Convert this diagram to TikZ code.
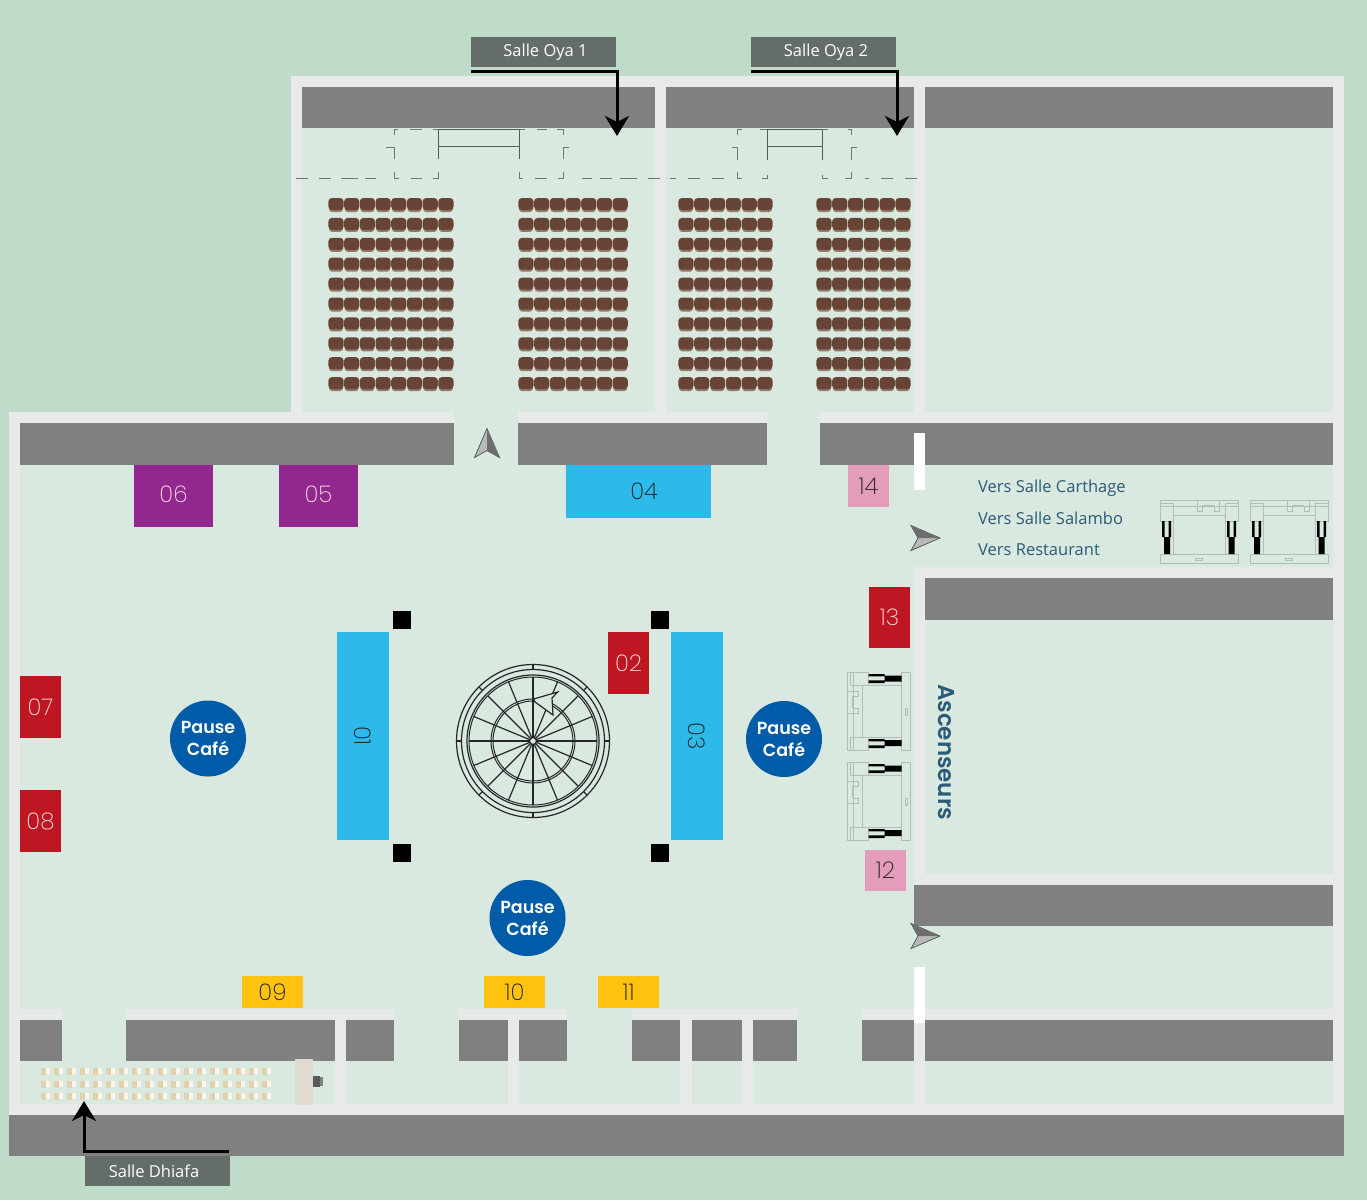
\documentclass[tikz,border=0pt]{standalone}
\usepackage{fontspec}
\setmainfont{Open Sans}
\newfontfamily\numfont{Poppins ExtraLight}
\newfontfamily\cafefont{Poppins SemiBold}
\usetikzlibrary{arrows.meta}
\definecolor{bgc}{HTML}{BFDBCA}
\definecolor{floorc}{HTML}{D9E9E0}
\definecolor{wallc}{HTML}{E8EAE9}
\definecolor{bandc}{HTML}{808080}
\definecolor{tagc}{HTML}{646D68}
\definecolor{purplec}{HTML}{92278F}
\definecolor{cyanc}{HTML}{2DB9E9}
\definecolor{pinkc}{HTML}{E39CB9}
\definecolor{redc}{HTML}{BE1622}
\definecolor{yellowc}{HTML}{FFC20E}
\definecolor{cafec}{HTML}{005CA9}
\definecolor{inkc}{HTML}{2B5B78}
\definecolor{seatc}{HTML}{684436}
\definecolor{seatd}{HTML}{8F7A69}
\definecolor{liftc}{HTML}{AEBFB6}
\definecolor{planc}{HTML}{4A5F58}
\definecolor{stonec}{HTML}{E0DBD2}
\tikzset{
  x=1pt,y=-1pt,
  tag/.style={fill=tagc,text=white,minimum width=145pt,minimum height=30pt,inner sep=0pt,font=\fontsize{16.5}{18}\selectfont},
  standbox/.style={text=white!88!red,inner sep=0pt,font=\numfont\fontsize{23}{26}\selectfont},
  darkbox/.style={text=black!88,inner sep=0pt,font=\numfont\fontsize{23}{26}\selectfont},
  cafe/.style={circle,fill=cafec,text=white,minimum size=76pt,inner sep=0pt,align=center,font=\cafefont\fontsize{17.5}{22}\selectfont},
  pointer/.style={line width=3pt,-{Stealth[length=20pt,width=24pt,inset=6pt]}},
  plan/.style={draw=planc,line width=0.9pt},
  plandash/.style={plan,draw=planc!80!floorc},
  legend/.style={text=inkc,anchor=west,inner sep=0pt,font=\fontsize{16.5}{18}\selectfont},
  lift/.style={draw=liftc,line width=0.9pt},
  compass/.style={draw=planc,line width=0.8pt,fill=bandc!55!white},
  rot/.style={draw=black!85,line width=1.2pt},
}
\newcommand{\Rct}[5]{\fill[#1] (#2,#3) rectangle (#4,#5);}
\newcommand{\Compass}[2]{%
\begin{scope}[shift={(#1,#2)}]
  \draw[compass] (15,0) -- (-14,-12.5) -- (-7,0) -- (-14,12.5) -- cycle;
  \fill[bandc!85!black] (14,0) -- (-13,-11.5) -- (-7,0) -- cycle;
\end{scope}}
\newcommand{\liftunit}[3]{%
\begin{scope}[shift={(#1,#2)},rotate=#3,shift={(-39,-31.5)}]
  \draw[lift] (0,0) rectangle (78,6);
  \draw[lift] (0,3) rectangle (13,21);
  \draw[lift] (65,3) rectangle (78,21);
  \draw[lift] (13,15) -- (65,15);
  \draw[lift] (37,0) -- (37,11) -- (42,11) -- (42,6) -- (54,6) -- (54,11) -- (59,11) -- (59,0);
  \draw[lift] (42,5) -- (54,5);
  \draw[lift] (0,54) rectangle (78,63);
  \draw[lift] (35,58) rectangle (42,60);
  \draw[lift] (13,21) -- (13,54);
  \draw[lift] (65,21) -- (65,54);
  \fill[black] (2,21) rectangle (4.6,37) (8.6,21) rectangle (11,37) (4,37) rectangle (10,54);
  \fill[black] (67,21) rectangle (69.6,37) (73.6,21) rectangle (76,37) (68.5,37) rectangle (74.5,54);
\end{scope}}
\newcommand{\seatblock}[3]{%
\foreach \r in {0,...,9}{%
  \foreach \c in {1,...,#2}{%
    \pgfmathsetmacro{\sx}{#1+(\c-1)*#3}
    \pgfmathsetmacro{\sy}{204.5+\r*19.9}
    \fill[seatd,rounded corners=3pt] (\sx-7,\sy+1) rectangle (\sx+7,\sy+7.5);
    \fill[seatc,rounded corners=3.5pt] (\sx-7.6,\sy-6.5) rectangle (\sx+7.6,\sy+5.5);
  }}}
\begin{document}
\begin{tikzpicture}
\useasboundingbox (0,0) rectangle (1367,1200);
\Rct{bgc}{0}{0}{1367}{1200}
% floors
\Rct{floorc}{291}{76}{1344}{423}
\Rct{floorc}{9}{412}{1344}{1115}
% walls
\Rct{wallc}{291}{76}{1344}{87}
\Rct{wallc}{291}{76}{302}{423}
\Rct{wallc}{655}{76}{666}{412}
\Rct{wallc}{914}{76}{925}{433}
\Rct{wallc}{1333}{76}{1344}{1115}
\Rct{wallc}{9}{412}{454}{423}
\Rct{wallc}{518}{412}{767}{423}
\Rct{wallc}{820}{412}{1344}{423}
\Rct{wallc}{9}{412}{20}{1115}
\Rct{wallc}{9}{1104}{1344}{1115}
\Rct{wallc}{914}{567}{1344}{578}
\Rct{wallc}{914}{567}{925}{885}
\Rct{wallc}{914}{874}{1344}{885}
\Rct{wallc}{20}{1009}{62}{1020}
\Rct{wallc}{126}{1009}{394}{1020}
\Rct{wallc}{459}{1009}{567}{1020}
\Rct{wallc}{632}{1009}{797}{1020}
\Rct{wallc}{862}{1009}{1344}{1020}
\Rct{wallc}{914}{1020}{925}{1104}
\Rct{wallc}{335}{1020}{346}{1104}
\Rct{wallc}{508}{1020}{519}{1104}
\Rct{wallc}{680}{1020}{692}{1104}
\Rct{wallc}{742}{1020}{753}{1104}
% dark bands
\Rct{bandc}{302}{87}{655}{128}
\Rct{bandc}{666}{87}{914}{128}
\Rct{bandc}{925}{87}{1333}{128}
\Rct{bandc}{20}{423}{454}{465}
\Rct{bandc}{518}{423}{767}{465}
\Rct{bandc}{820}{423}{1333}{465}
\Rct{bandc}{925}{578}{1333}{620}
\Rct{bandc}{914}{885}{1333}{926}
\Rct{bandc}{20}{1020}{62}{1061}
\Rct{bandc}{126}{1020}{335}{1061}
\Rct{bandc}{346}{1020}{394}{1061}
\Rct{bandc}{459}{1020}{508}{1061}
\Rct{bandc}{519}{1020}{567}{1061}
\Rct{bandc}{632}{1020}{680}{1061}
\Rct{bandc}{692}{1020}{742}{1061}
\Rct{bandc}{753}{1020}{797}{1061}
\Rct{bandc}{862}{1020}{914}{1061}
\Rct{bandc}{925}{1020}{1333}{1061}
\Rct{bandc}{9}{1115}{1344}{1156}
% white door strips
\Rct{white}{914}{433}{925}{490}
\Rct{white}{914}{967}{925}{1023}
% stage plans, Oya 1
\draw[plan] (438,129) -- (519,129) (438,146) -- (519,146) (438,129) -- (438,159) (519,129) -- (519,159);
\draw[plandash] (386,147) -- (394,147) -- (394,159) (569,147) -- (563,147) -- (563,159);
\draw[plandash] (398,129) -- (394,129) -- (394,135) (410,129) -- (422,129) (433,129) -- (438,129);
\draw[plandash] (394,172) -- (394,178) -- (399,178) (411,178) -- (422,178) (433,178) -- (438,178) -- (438,172);
\draw[plandash] (519,129) -- (525,129) (537,129) -- (547,129) (557,129) -- (563,129) -- (563,135);
\draw[plandash] (519,172) -- (519,178) -- (523,178) (535,178) -- (547,178) (558,178) -- (563,178) -- (563,172);
% stage plans, Oya 2
\draw[plan] (767,129) -- (822,129) (767,146) -- (822,146) (767,129) -- (767,160) (822,129) -- (822,160);
\draw[plandash] (732,147) -- (737,147) -- (737,160) (857,147) -- (851,147) -- (851,160);
\draw[plandash] (742,129) -- (737,129) -- (737,135) (760,129) -- (767,129);
\draw[plandash] (737,172) -- (737,178) -- (742,178) (762,178) -- (767,178) -- (767,175);
\draw[plandash] (822,175) -- (822,178) -- (828,178) (845,178) -- (851,178) -- (851,172);
\draw[plandash] (822,129) -- (828,129) (848,129) -- (851,129) -- (851,135);
% long dashed line
\foreach \a/\b in {296/308,319/331,341/358,365/376,582/592,600/612,620/637,648/660,670/676,688/700,712/724,865/869,881/893,905/917}{
  \draw[plandash] (\a,178) -- (\b,178);
}
% seats
\seatblock{336}{8}{15.7}
\seatblock{526}{7}{15.7}
\seatblock{686}{6}{15.8}
\seatblock{824}{6}{15.8}
% Dhiafa seats
\foreach \r in {1071,1084,1096}{
  \foreach \c in {0,...,17}{
    \pgfmathsetmacro{\sx}{41+\c*13}
    \fill[orange!22!floorc] (\sx,\r-3.5) rectangle (\sx+5,\r+3.5);
    \fill[white!92!orange] (\sx+4.5,\r-3) rectangle (\sx+9,\r+3);
  }}
\Rct{stonec}{295}{1059}{313}{1105}
\Rct{bandc!70!black}{313}{1076}{320}{1087}
\Rct{bandc}{320}{1077}{323}{1086}
% rotunda
\begin{scope}[shift={(533,741)}]
  \draw[rot] (0,0) circle (76.5);
  \draw[rot] (0,0) circle (71.5);
  \draw[rot] (0,0) circle (66);
  \draw[rot,line width=1pt] (0,0) circle (64);
  \draw[rot,line width=1pt] (0,0) circle (42);
  \draw[rot,line width=1pt] (0,0) circle (40);
  \foreach \a in {0,22.5,...,337.5}{
    \draw[rot] (\a:3.5) -- (\a:64);
  }
  \foreach \a in {0,45,...,315}{
    \draw[rot] (\a:71.5) -- (\a:76.5);
  }
  \draw[rot,fill=floorc] (0,0) circle (3.5);
  \draw[rot,fill=floorc] (0.6,-42) -- (24.7,-49) -- (19,-43) -- (20,-26) -- (2,-39) -- cycle;
\end{scope}
% pillars
\Rct{black}{393}{611}{411}{629}
\Rct{black}{651}{611}{669}{629}
\Rct{black}{393}{844}{411}{862}
\Rct{black}{651}{844}{669}{862}
% stands
\node[standbox,fill=purplec,minimum width=79pt,minimum height=62pt] (s06) at (173.5,496) {\raisebox{3pt}{06}};
\node[standbox,fill=purplec,minimum width=79pt,minimum height=62pt] (s05) at (318.5,496) {\raisebox{3pt}{05}};
\node[darkbox,fill=cyanc,minimum width=145pt,minimum height=53pt] (s04) at (638.5,491.5) {\hspace{11pt}\raisebox{-1.5pt}{04}};
\node[darkbox,fill=pinkc,minimum width=41pt,minimum height=42pt] (s14) at (868.5,486) {14};
\node[standbox,fill=redc,minimum width=41pt,minimum height=61pt] (s13) at (889.5,617.5) {13};
\node[standbox,fill=redc,minimum width=41pt,minimum height=62pt] (s02) at (628.5,663) {02};
\node[standbox,fill=redc,minimum width=41pt,minimum height=62pt] (s07) at (40.5,707) {07};
\node[standbox,fill=redc,minimum width=41pt,minimum height=62pt] (s08) at (40.5,821) {08};
\node[darkbox,fill=pinkc,minimum width=41pt,minimum height=41pt] (s12) at (885.5,870.5) {12};
\node[darkbox,fill=yellowc,minimum width=61pt,minimum height=32pt] (s09) at (272.5,992) {09};
\node[darkbox,fill=yellowc,minimum width=61pt,minimum height=32pt] (s10) at (514.5,992) {10};
\node[darkbox,fill=yellowc,minimum width=61pt,minimum height=32pt] (s11) at (628.5,992) {11};
\node[darkbox,fill=cyanc,minimum width=208pt,minimum height=52pt,rotate=-90] (s01) at (363,736) {\raisebox{-2pt}{01}};
\node[darkbox,fill=cyanc,minimum width=208pt,minimum height=52pt,rotate=-90] (s03) at (697,736) {\raisebox{-3pt}{03}};
% cafes
\node[cafe] (c1) at (208,738.5) {Pause\\Café};
\node[cafe] (c2) at (784,739) {Pause\\Café};
\node[cafe] (c3) at (527.5,918) {Pause\\Café};
% lifts
\liftunit{1199}{531.5}{0}
\liftunit{1289}{531.5}{0}
\liftunit{879}{711}{90}
\liftunit{879}{801}{90}
% legends
\node[legend] (v1) at (978,488) {Vers Salle Carthage};
\node[legend] (v2) at (978,518) {Vers Salle Salambo};
\node[legend] (v3) at (978,550) {Vers Restaurant};
\node[text=inkc,rotate=-90,inner sep=0pt,font=\cafefont\fontsize{23}{24}\selectfont] (asc) at (946,752) {Ascenseurs};
% compass arrows
\begin{scope}[shift={(487,443.5)},rotate=90]
  \draw[compass] (15,0) -- (-14,-12.5) -- (-7,0) -- (-14,12.5) -- cycle;
  \fill[bandc!85!black] (14,0) -- (-13,11.5) -- (-7,0) -- cycle;
\end{scope}
\Compass{925}{538}
\Compass{925}{936}
% tags and pointers
\node[tag] (oya1) at (543,52) {\hspace{5pt}\raisebox{1pt}{Salle Oya 1}};
\node[tag] (oya2) at (823.5,52) {\hspace{5pt}\raisebox{1pt}{Salle Oya 2}};
\node[tag] (dhiafa) at (157.5,1171) {\hspace{-7pt}Salle Dhiafa};
\coordinate (o1a) at (471,71);
\coordinate (o1b) at (617,136);
\coordinate (o2a) at (751,71);
\coordinate (o2b) at (897,136);
\coordinate (dha) at (229,1151);
\coordinate (dhb) at (84,1101);
\draw[pointer] (o1a) -| (o1b);
\draw[pointer] (o2a) -| (o2b);
\draw[pointer] (dha) -| (dhb);
\end{tikzpicture}
\end{document}
